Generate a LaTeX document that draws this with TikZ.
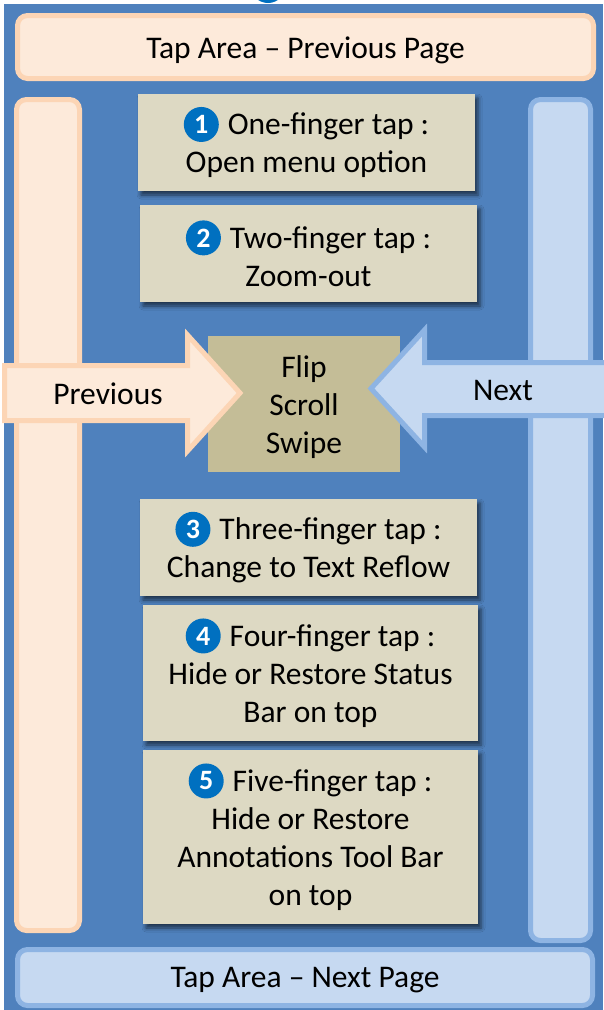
\documentclass[tikz,border=0pt]{standalone}
\usepackage{fontspec}
\setmainfont{Carlito}
\usetikzlibrary{shadows.blur}

\definecolor{panelblue}{HTML}{4F81BD}
\definecolor{peachfill}{HTML}{FDEADA}
\definecolor{peachline}{HTML}{FCD5B5}
\definecolor{skyfill}{HTML}{C6D9F1}
\definecolor{skyline}{HTML}{8EB4E3}
\definecolor{notefill}{HTML}{DDD9C3}
\definecolor{centerfill}{HTML}{C4BD97}
\definecolor{badgeblue}{HTML}{0070C0}

% numbered blue disc set inline with the gesture title
\newcommand\numbadge[1]{%
  \tikz[baseline={([yshift=-10.5pt]nb.center)}]
    \node[circle, fill=badgeblue, text=white, inner sep=0pt, minimum size=35pt,
          font=\bfseries\fontsize{28}{28}\selectfont] (nb) {#1};}

\tikzset{
  label text/.style={font=\fontsize{31.5}{38}\selectfont, align=center, text=black},
  peacharea/.style={draw=peachline, fill=peachfill, line width=5pt, rounded corners=10pt, inner sep=0pt},
  skyarea/.style={draw=skyline, fill=skyfill, line width=5pt, rounded corners=10pt, inner sep=0pt},
  notebox/.style={label text, fill=notefill, inner sep=0pt,
    blur shadow={shadow xshift=3pt, shadow yshift=-4pt, shadow blur radius=4pt, shadow opacity=60}},
  centerbox/.style={fill=centerfill, inner sep=0pt},
  peacharrow/.style={draw=peachline, fill=peachfill, line width=5pt, miter limit=10},
  skyarrow/.style={draw=skyline, fill=skyfill, line width=5pt, miter limit=10},
}

\begin{document}
\begin{tikzpicture}[x=1pt, y=-1pt]
  \useasboundingbox (0,0) rectangle (603,1010);

  % screen panel
  \fill[panelblue] (4,4) rectangle (603,1010);
  \node[circle, fill=badgeblue, minimum size=35pt, inner sep=0pt] (topbadge) at (268,-14.5) {};

  % tap areas along the edges
  \node[peacharea, minimum width=63pt, minimum height=831pt] (leftbar) at (48,515) {};
  \node[skyarea, minimum width=60pt, minimum height=841pt] (rightbar) at (560.5,520) {};
  \node[peacharea, minimum width=576pt, minimum height=63pt] (prevpage) at (305.5,47) {};
  \node[label text] (prevpagetext) at ([yshift=-3.5pt]prevpage.center) {Tap Area -- Previous Page};
  \node[skyarea, minimum width=575pt, minimum height=56pt] (nextpage) at (305,977.5) {};
  \node[label text] (nextpagetext) at ([yshift=-3pt]nextpage.center) {Tap Area -- Next Page};

  % gesture notes
  \node[notebox, minimum width=337pt, minimum height=97pt] (tap1) at (306.5,142.5)
    {\numbadge{1}\hspace{9pt}One-finger tap :\\Open menu option};
  \node[notebox, minimum width=337pt, minimum height=97pt] (tap2) at (308.5,253.5)
    {\numbadge{2}\hspace{9pt}Two-finger tap :\\Zoom-out};
  \node[notebox, minimum width=337pt, minimum height=97pt] (tap3) at (308.5,547.5)
    {\numbadge{3}\hspace{9pt}Three-finger tap :\\Change to Text Reflow};
  \node[notebox, minimum width=335pt, minimum height=136pt] (tap4) at (310.5,673)
    {\numbadge{4}\hspace{9pt}Four-finger tap :\\Hide or Restore Status\\Bar on top};
  \node[notebox, minimum width=335pt, minimum height=174pt] (tap5) at (310.5,837)
    {\numbadge{5}\hspace{9pt}Five-finger tap :\\Hide or Restore\\Annotations Tool Bar\\on top};

  % page turning gestures
  \node[centerbox, minimum width=192pt, minimum height=136pt] (flip) at (304,404) {};
  \node[label text] (fliptext) at ([yshift=-3pt]flip.center) {Flip\\Scroll\\Swipe};

  \draw[peacharrow] (4.5,365.5) -- (187.5,365.5) -- (187.5,335) -- (240,393)
    -- (187.5,451) -- (187.5,420.5) -- (4.5,420.5) -- cycle;
  \draw[skyarrow] (610,362.5) -- (424.5,362.5) -- (424.5,330) -- (371,388.5)
    -- (424.5,447) -- (424.5,415.5) -- (610,415.5) -- cycle;
  \node[label text] (prevlabel) at (108,394) {Previous};
  \node[label text] (nextlabel) at (503,390.5) {Next};
\end{tikzpicture}
\end{document}
